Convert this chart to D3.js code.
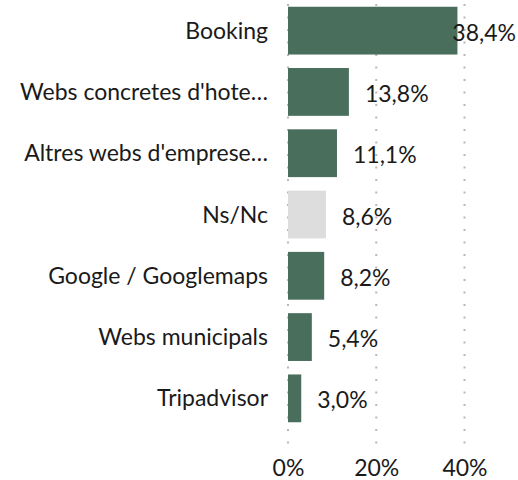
<!DOCTYPE html>
<html>
<head>
<meta charset="utf-8">
<script src="https://cdn.jsdelivr.net/npm/d3@7"></script>
<style>
  html, body { margin: 0; padding: 0; background: #fff; }
  svg { display: block; font-family: Lato, "Open Sans", sans-serif; }
</style>
</head>
<body>
<svg id="chart" width="518" height="480"></svg>
<script>
// Data
const categories = [
    'Booking',
    "Webs concretes d'hote…",
    "Altres webs d'emprese…",
    'Ns/Nc',
    'Google / Googlemaps',
    'Webs municipals',
    'Tripadvisor'
];
const values = [38.4, 13.8, 11.1, 8.6, 8.2, 5.4, 3.0];
const greyCategories = ['Ns/Nc'];
const tickValues = [0, 20, 40];

const width = 518;
const height = 480;
const fontSize = 23;
const green = '#4a6e5c';
const grey = '#dddddd';

const svg = d3.select('#chart');

const xScale = d3.scaleLinear()
    .domain([0, 40])
    .range([288, 464.5]);

const yScale = d3.scaleBand()
    .domain(categories)
    .range([0, 429])
    .paddingInner(0.22)
    .paddingOuter(0.11);

const fmt = v => v.toFixed(1).replace('.', ',') + '%';

// Dotted vertical grid lines
svg.append('g')
    .selectAll('line')
    .data(tickValues)
    .enter().append('line')
    .attr('x1', d => xScale(d))
    .attr('x2', d => xScale(d))
    .attr('y1', 4)
    .attr('y2', 449)
    .attr('stroke', '#b8b8b8')
    .attr('stroke-width', 2)
    .attr('stroke-dasharray', '2,10.5');

// Bars
svg.append('g')
    .selectAll('rect')
    .data(values)
    .enter().append('rect')
    .attr('x', xScale(0))
    .attr('y', (d, i) => yScale(categories[i]))
    .attr('width', d => xScale(d) - xScale(0))
    .attr('height', yScale.bandwidth())
    .attr('fill', (d, i) => greyCategories.includes(categories[i]) ? grey : green);

// Category labels
svg.append('g')
    .selectAll('text')
    .data(categories)
    .enter().append('text')
    .attr('x', 268)
    .attr('y', d => yScale(d) + yScale.bandwidth() / 2)
    .attr('dy', '0.35em')
    .attr('text-anchor', 'end')
    .attr('font-size', fontSize)
    .attr('fill', '#1a1a1a')
    .text(d => d);

// Value labels, pushed back inside the page if they would overflow
svg.append('g')
    .selectAll('text')
    .data(values)
    .enter().append('text')
    .attr('y', (d, i) => yScale(categories[i]) + yScale.bandwidth() / 2 + 2)
    .attr('dy', '0.35em')
    .attr('font-size', fontSize)
    .attr('fill', '#1a1a1a')
    .text(d => fmt(d))
    .each(function(d) {
        const w = this.getComputedTextLength();
        const x = Math.min(xScale(d) + 16, width - 2 - w);
        d3.select(this).attr('x', x);
    });

// Axis tick labels
const xAxis = d3.axisBottom(xScale)
    .tickValues(tickValues)
    .tickSize(0)
    .tickPadding(0)
    .tickFormat(d => d + '%');

svg.append('g')
    .attr('transform', 'translate(0,476)')
    .call(xAxis)
    .call(g => g.select('.domain').remove())
    .call(g => g.selectAll('text')
        .attr('font-size', fontSize)
        .attr('font-family', 'Lato, "Open Sans", sans-serif')
        .attr('fill', '#1a1a1a')
        .attr('dy', 0)
        .attr('y', 0));
</script>
</body>
</html>
